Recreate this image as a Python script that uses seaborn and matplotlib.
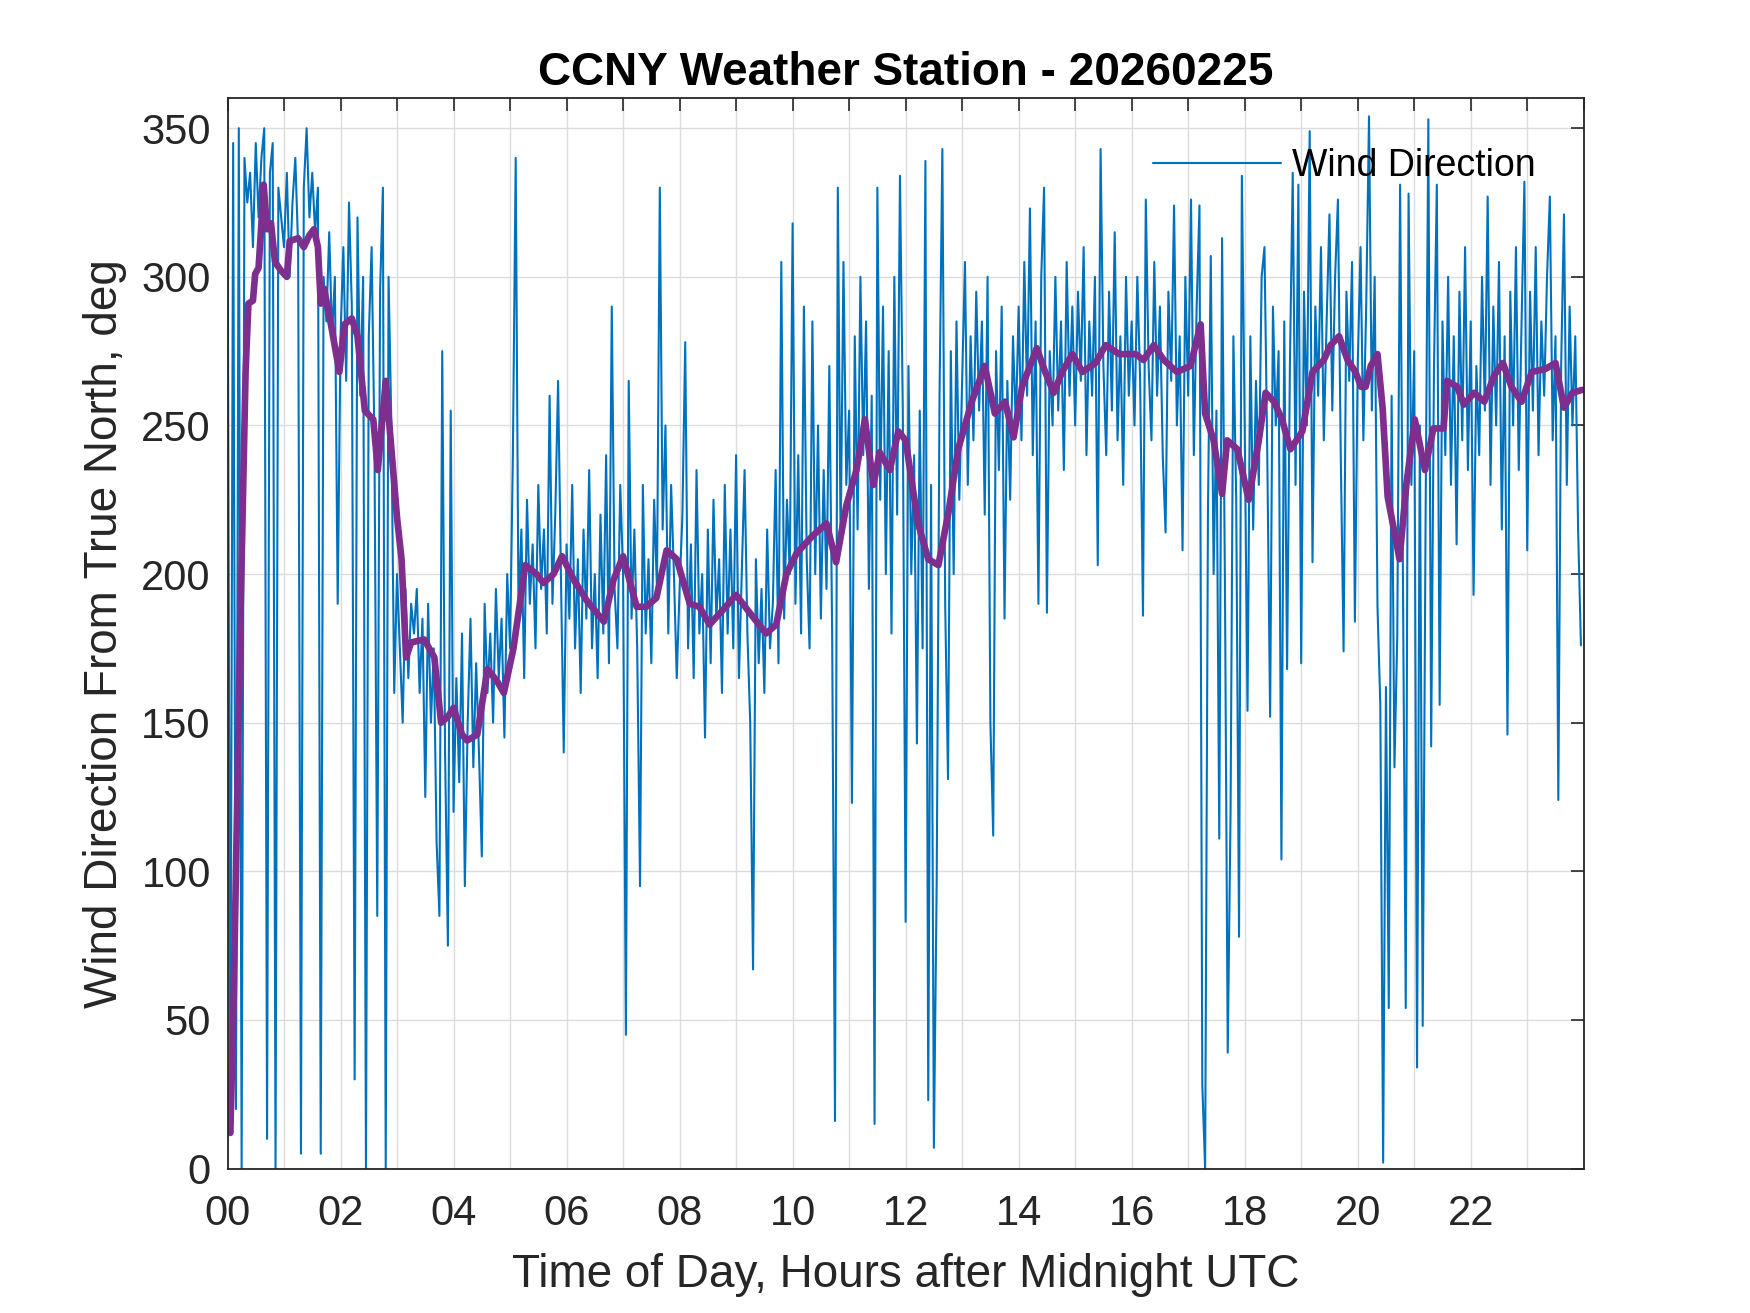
import numpy as np
import pandas as pd
import matplotlib
matplotlib.use("Agg")
import matplotlib.pyplot as plt
import seaborn as sns

# ==========================
# DATA
# ==========================

# raw wind direction, one sample every 3 minutes, one row per hour
wd_h00 = [330, 15, 345, 20, 350, 0, 340, 325, 335, 310, 345, 320, 340, 350, 10, 335, 345, 0, 330, 320]
wd_h01 = [310, 335, 300, 325, 340, 310, 5, 330, 350, 320, 335, 315, 330, 5, 300, 285, 315, 280, 300, 190]
wd_h02 = [280, 310, 265, 325, 290, 30, 320, 260, 300, 0, 280, 310, 245, 85, 295, 330, 0, 300, 250, 160]
wd_h03 = [200, 175, 150, 195, 165, 190, 180, 195, 160, 185, 125, 190, 150, 175, 110, 85, 275, 140, 75, 255]
wd_h04 = [120, 165, 130, 180, 95, 150, 185, 135, 170, 140, 105, 190, 160, 180, 150, 195, 165, 185, 145, 200]
wd_h05 = [175, 240, 340, 185, 215, 165, 225, 190, 210, 175, 230, 195, 215, 180, 260, 190, 220, 265, 200, 140]
wd_h06 = [210, 185, 230, 175, 205, 160, 215, 185, 235, 175, 200, 165, 220, 180, 240, 170, 290, 195, 175, 230]
wd_h07 = [200, 45, 265, 185, 215, 175, 95, 230, 180, 205, 170, 225, 195, 330, 215, 250, 180, 230, 200, 165]
wd_h08 = [195, 220, 278, 175, 210, 165, 235, 180, 200, 145, 215, 170, 225, 185, 205, 160, 230, 180, 215, 175]
wd_h09 = [240, 165, 200, 235, 180, 150, 67, 205, 170, 195, 160, 215, 175, 190, 235, 170, 305, 185, 225, 200]
wd_h10 = [318, 190, 240, 180, 290, 205, 175, 285, 200, 250, 185, 235, 195, 270, 180, 16, 330, 210, 305, 230]
wd_h11 = [255, 123, 280, 215, 300, 240, 285, 195, 260, 15, 330, 225, 290, 200, 275, 180, 300, 220, 334, 255]
wd_h12 = [83, 270, 200, 240, 143, 255, 175, 339, 23, 230, 7, 97, 260, 343, 190, 131, 275, 200, 285, 225]
wd_h13 = [265, 305, 230, 280, 245, 295, 255, 285, 220, 300, 150, 112, 275, 235, 290, 185, 265, 225, 280, 250]
wd_h14 = [290, 245, 305, 260, 323, 240, 285, 190, 300, 330, 187, 275, 250, 300, 255, 285, 235, 305, 260, 290]
wd_h15 = [250, 295, 265, 310, 240, 285, 260, 300, 203, 343, 270, 240, 295, 255, 315, 245, 280, 230, 300, 260]
wd_h16 = [285, 250, 300, 265, 186, 326, 270, 245, 305, 260, 290, 240, 214, 295, 265, 324, 250, 280, 208, 300]
wd_h17 = [260, 326, 240, 290, 324, 28, 0, 221, 307, 200, 255, 111, 313, 198, 39, 120, 280, 225, 78, 334]
wd_h18 = [250, 154, 280, 215, 265, 230, 300, 310, 240, 152, 290, 250, 275, 104, 285, 168, 270, 335, 230, 331]
wd_h19 = [170, 295, 250, 349, 204, 290, 260, 310, 245, 285, 321, 255, 300, 326, 240, 174, 295, 265, 305, 184]
wd_h20 = [270, 310, 245, 290, 354, 255, 300, 189, 156, 2, 162, 54, 260, 135, 179, 331, 200, 54, 328, 230]
wd_h21 = [275, 34, 250, 48, 215, 353, 142, 270, 331, 156, 285, 240, 300, 230, 280, 210, 295, 245, 310, 235]
wd_h22 = [285, 193, 270, 240, 300, 255, 327, 230, 290, 250, 305, 215, 280, 146, 295, 250, 310, 235, 285, 332]
wd_h23 = [208, 295, 255, 310, 240, 285, 260, 300, 327, 245, 280, 124, 270, 321, 230, 290, 250, 280, 215, 176]

# smoothed wind direction (purple), hours and values
smooth_hours = [0.00, 0.05, 0.11, 0.23, 0.32, 0.37, 0.45, 0.49, 0.55, 0.60, 0.64, 0.70, 0.77, 0.84, 0.95,
                1.05, 1.10, 1.25, 1.35, 1.45, 1.53, 1.60, 1.65, 1.71, 1.83, 1.98, 2.07, 2.20, 2.30, 2.43,
                2.58, 2.66, 2.73, 2.80, 2.90, 3.00, 3.08, 3.16, 3.25, 3.48, 3.66, 3.78, 3.90, 4.00, 4.15,
                4.24, 4.42, 4.60, 4.77, 4.89, 5.06, 5.27, 5.47, 5.59, 5.77, 5.92, 6.13, 6.36, 6.66, 6.83,
                7.00, 7.24, 7.41, 7.59, 7.77, 7.95, 8.18, 8.35, 8.53, 8.77, 9.00, 9.24, 9.53, 9.71, 9.89,
                10.07, 10.36, 10.60, 10.77, 10.95, 11.13, 11.28, 11.43, 11.54, 11.72, 11.87, 12.00, 12.22,
                12.40, 12.58, 12.76, 12.93, 13.17, 13.40, 13.58, 13.76, 13.91, 14.06, 14.32, 14.47, 14.62,
                14.77, 14.95, 15.13, 15.36, 15.54, 15.78, 16.07, 16.21, 16.39, 16.57, 16.80, 17.04, 17.22,
                17.30, 17.45, 17.60, 17.69, 17.87, 18.07, 18.25, 18.37, 18.52, 18.66, 18.81, 19.02, 19.20,
                19.40, 19.52, 19.67, 19.82, 19.96, 20.06, 20.14, 20.23, 20.35, 20.44, 20.53, 20.65, 20.74,
                20.86, 21.01, 21.19, 21.34, 21.52, 21.58, 21.76, 21.88, 22.06, 22.24, 22.42, 22.57, 22.72,
                22.90, 23.08, 23.32, 23.50, 23.65, 23.80, 23.98]
smooth_vals = [15, 12, 58, 186, 268, 291, 292, 301, 303, 318, 331, 316, 318, 305, 302,
               300, 312, 313, 310, 314, 316, 310, 291, 296, 284, 268, 284, 286, 280, 255,
               252, 235, 250, 265, 242, 219, 205, 172, 177, 178, 172, 150, 152, 155, 146,
               144, 146, 168, 164, 160, 175, 203, 200, 197, 200, 206, 198, 191, 184, 198,
               206, 189, 189, 192, 208, 205, 190, 189, 183, 188, 193, 187, 180, 183, 200,
               207, 213, 217, 204, 223, 235, 252, 230, 241, 235, 248, 245, 217,
               205, 203, 221, 242, 258, 270, 254, 258, 246, 263, 276, 268, 261,
               268, 274, 268, 271, 277, 274, 274, 272, 277, 272, 268, 270, 284,
               254, 245, 227, 245, 242, 225, 245, 261, 258, 252, 242, 248, 268,
               272, 277, 280, 272, 268, 263, 263, 270, 274, 256, 226, 214, 205,
               230, 252, 235, 249, 249, 265, 263, 257, 261, 258, 267, 271, 263,
               258, 268, 269, 271, 256, 261, 262]

x_ticks = list(range(0, 25))
x_ticklabels = ["%02d" % h if h % 2 == 0 and h < 24 else "" for h in x_ticks]
y_ticks = [0, 50, 100, 150, 200, 250, 300, 350]

# ==========================
# BUILD FRAMES
# ==========================

raw = (wd_h00 + wd_h01 + wd_h02 + wd_h03 + wd_h04 + wd_h05 + wd_h06 + wd_h07 +
       wd_h08 + wd_h09 + wd_h10 + wd_h11 + wd_h12 + wd_h13 + wd_h14 + wd_h15 +
       wd_h16 + wd_h17 + wd_h18 + wd_h19 + wd_h20 + wd_h21 + wd_h22 + wd_h23)
df_raw = pd.DataFrame({"Hour": np.arange(len(raw)) * 0.05, "Dir": raw})
df_smooth = pd.DataFrame({"Hour": smooth_hours, "Dir": smooth_vals})

# ==========================
# PLOT
# ==========================

sns.set_style("white")
plt.rcParams["font.family"] = ["Liberation Sans", "DejaVu Sans"]

fig = plt.figure(figsize=(17.5, 13.13), dpi=100)
ax = fig.add_axes([0.13, 0.11, 0.775, 0.815])

sns.lineplot(data=df_raw, x="Hour", y="Dir", ax=ax, color="#0072BD",
             linewidth=1.5, label="Wind Direction", estimator=None, sort=False)
sns.lineplot(data=df_smooth, x="Hour", y="Dir", ax=ax, color="#7E2F8E",
             linewidth=4.8, legend=False, estimator=None, sort=False)

ax.set_xlim(0, 24)
ax.set_ylim(0, 360)
ax.set_xticks(x_ticks)
ax.set_xticklabels(x_ticklabels)
ax.set_yticks(y_ticks)

ax.grid(True, color="#dcdcdc", linewidth=1.0)
ax.set_axisbelow(True)
ax.tick_params(direction="in", length=9.5, width=1.2, top=True, right=True,
               labelsize=30, colors="#262626")
ax.tick_params(axis="x", pad=18)
ax.tick_params(axis="y", pad=12)
for s in ax.spines.values():
    s.set_color("#262626")
    s.set_linewidth(1.3)
    s.set_visible(True)

ax.set_title("CCNY Weather Station - 20260225", fontsize=33, fontweight="bold",
             color="black", pad=10)
ax.set_xlabel("Time of Day, Hours after Midnight UTC", fontsize=33, color="#262626", labelpad=14)
ax.set_ylabel("Wind Direction From True North, deg", fontsize=33, color="#262626", labelpad=10)

ax.legend(loc="upper right", frameon=False, fontsize=27, handlelength=3.4,
          handletextpad=0.3, bbox_to_anchor=(0.984, 0.978), borderaxespad=0.3,
          labelcolor="black")

fig.savefig("out.png", dpi=100)
